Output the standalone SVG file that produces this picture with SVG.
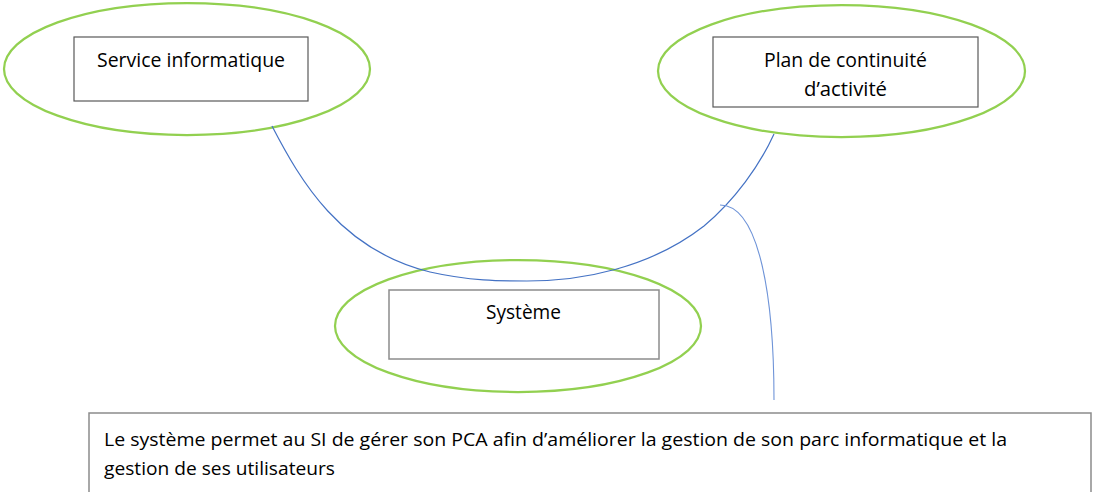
<svg xmlns="http://www.w3.org/2000/svg" width="1093" height="492" viewBox="0 0 1093 492">
  <style>
    .ell { fill: none; stroke: #92D050; stroke-width: 2.25; }
    .box { fill: #ffffff; stroke: #595959; stroke-width: 1.2; }
    .box2 { fill: #ffffff; stroke: #8c8c8c; stroke-width: 1.5; }
    .lbl { font-family: "Open Sans", "Liberation Sans", sans-serif; font-size: 20px; fill: #000000; }
    .note { font-family: "Open Sans", "Liberation Sans", sans-serif; font-size: 19px; fill: #000000; }
    .conn { fill: none; stroke: #4472C4; stroke-width: 1.2; }
    .conn2 { fill: none; stroke: #6f94d8; stroke-width: 1.1; }
  </style>
  <rect x="0" y="0" width="1093" height="492" fill="#ffffff"/>

  <g id="node-service">
    <ellipse class="ell" cx="187" cy="69" rx="183" ry="66"/>
    <rect class="box" x="74" y="37" width="234" height="64"/>
    <text class="lbl" x="97" y="67" textLength="188" lengthAdjust="spacingAndGlyphs">Service informatique</text>
  </g>

  <g id="node-pca">
    <ellipse class="ell" cx="841.5" cy="71" rx="183.5" ry="66"/>
    <rect class="box" x="713" y="37" width="265" height="70"/>
    <text class="lbl" x="764" y="67" textLength="163" lengthAdjust="spacingAndGlyphs">Plan de continuité</text>
    <text class="lbl" x="804" y="96" textLength="83" lengthAdjust="spacingAndGlyphs">d’activité</text>
  </g>

  <g id="node-systeme">
    <ellipse class="ell" cx="518" cy="326" rx="183" ry="66"/>
    <rect class="box2" x="389" y="290" width="270" height="69"/>
    <text class="lbl" x="486" y="319" textLength="75" lengthAdjust="spacingAndGlyphs">Système</text>
  </g>

  <g id="node-note">
    <path class="box2" d="M89,492 V413 H1091 V492"/>
    <text class="note" x="104" y="446" textLength="903" lengthAdjust="spacingAndGlyphs">Le système permet au SI de gérer son PCA afin d’améliorer la gestion de son parc informatique et la</text>
    <text class="note" x="104" y="475" textLength="231" lengthAdjust="spacingAndGlyphs">gestion de ses utilisateurs</text>
  </g>

  <g id="connectors">
    <path class="conn" d="M272,126 C300,180 340,250 430,272 C470,281 500,281 527,281 C582,281 650,268 704,226 C735,200 760,165 774,134"/>
    <path class="conn2" d="M720,205 C760,205 774,300 774,400"/>
  </g>
</svg>
